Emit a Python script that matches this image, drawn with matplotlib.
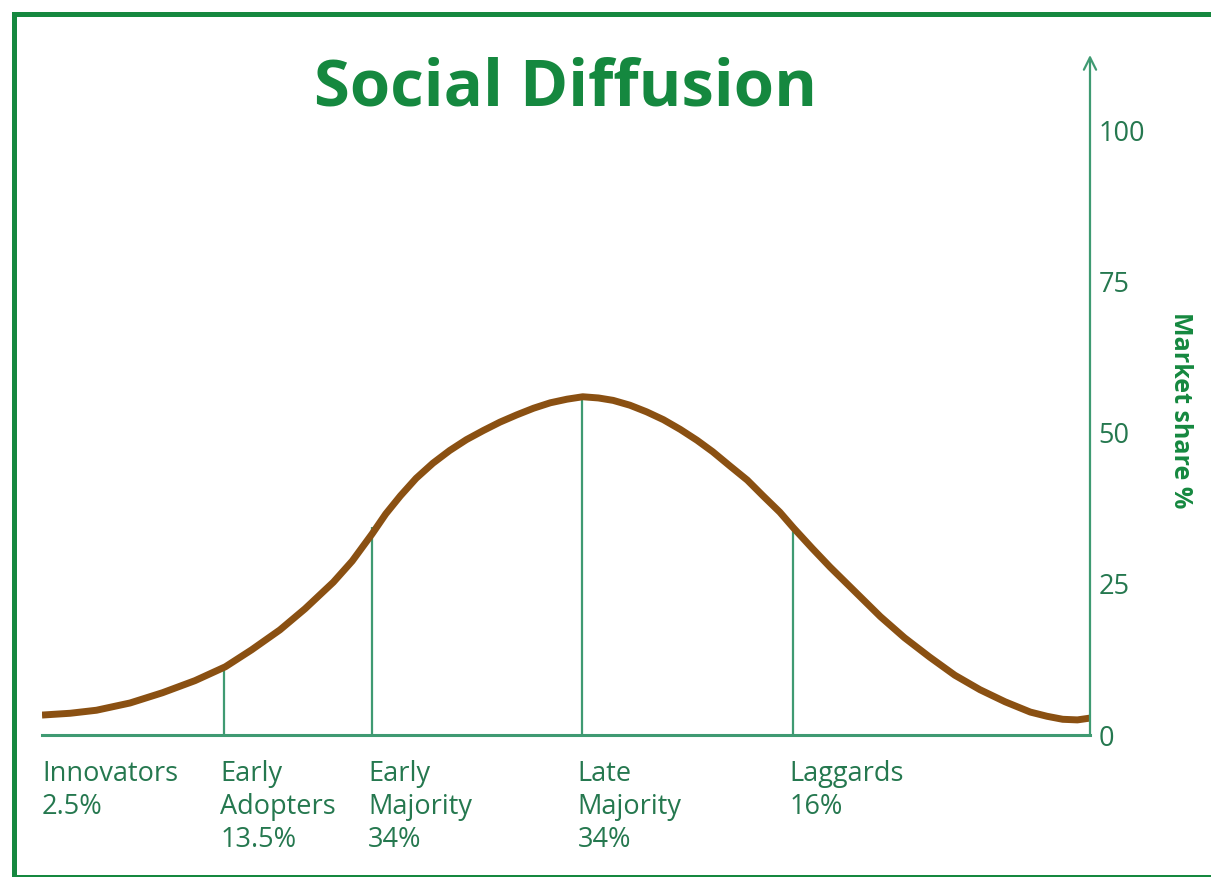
"""Social diffusion bell curve (adopter categories) with a right-hand share axis."""
import matplotlib
matplotlib.use("Agg")
import matplotlib.pyplot as plt
from matplotlib.patches import Rectangle

# curve: x in % of the time axis, y in market share %
curve_x = [0, 2.7, 5.2, 8.4, 11.5, 14.6, 17.5, 20.0, 22.7, 25.1, 27.8, 29.6,
           31.5, 32.8, 34.2, 35.7, 37.3, 38.9, 40.5, 42.1, 43.7, 45.3, 46.9,
           48.5, 50.1, 51.6, 53.1, 54.5, 56.1, 57.7, 59.3, 60.9, 62.5, 64.0,
           65.6, 67.3, 68.8, 70.4, 71.7, 73.5, 75.2, 77.6, 80.0, 82.3, 84.7,
           87.1, 89.5, 91.9, 94.3, 95.9, 97.4, 98.8, 100]
curve_y = [3.3, 3.6, 4.1, 5.3, 7.0, 9.0, 11.3, 14.1, 17.4, 20.9, 25.3, 28.8,
           33.3, 36.6, 39.6, 42.5, 45.0, 47.1, 48.9, 50.4, 51.8, 53.0, 54.1,
           55.0, 55.6, 56.0, 55.8, 55.4, 54.6, 53.5, 52.2, 50.6, 48.8, 46.9,
           44.6, 42.2, 39.6, 36.9, 34.3, 30.9, 27.8, 23.7, 19.6, 16.1, 12.9,
           9.9, 7.5, 5.5, 3.8, 3.1, 2.6, 2.5, 2.8]

# category boundaries (vertical dividers) and how high they reach
boundary_x = [17.4, 31.5, 51.5, 71.7]
boundary_top = [11.1, 34.4, 56.0, 34.1]

categories = ["Innovators\n2.5%", "Early\nAdopters\n13.5%", "Early\nMajority\n34%",
              "Late\nMajority\n34%", "Laggards\n16%"]
category_x = [0, 17.0, 31.1, 51.1, 71.3]

y_ticks = [0, 25, 50, 75, 100]

TITLE_GREEN = "#15883f"
LINE_GREEN = "#3f9a72"
TEXT_GREEN = "#25784f"
BROWN = "#8a5012"

plt.rcParams["font.family"] = ["Open Sans", "DejaVu Sans"]

W, H = 1211, 877
fig = plt.figure(figsize=(W / 100, H / 100), dpi=100)
# axes: x 0..100 -> px 42..1090, y 0 at px 735, arrow tip at px 55
y_top = 100 + (131 - 55) / 6.04
ax = fig.add_axes([42 / W, (H - 735) / H, 1048 / W, 680 / H])
ax.set_xlim(0, 100)
ax.set_ylim(0, y_top)

ax.plot(curve_x, curve_y, color=BROWN, lw=5, solid_capstyle="butt",
        solid_joinstyle="round", zorder=3)
ax.vlines(boundary_x, 0, boundary_top, color=LINE_GREEN, lw=1.6, zorder=2)

for s in ["top", "left", "right"]:
    ax.spines[s].set_visible(False)
ax.spines["bottom"].set_color(LINE_GREEN)
ax.spines["bottom"].set_linewidth(2.2)
ax.annotate("", xy=(100, y_top), xytext=(100, 0),
            arrowprops=dict(arrowstyle="->", color=LINE_GREEN, lw=1.6,
                            mutation_scale=22, shrinkA=0, shrinkB=0),
            annotation_clip=False)

ax.set_xticks([])
ax.yaxis.tick_right()
ax.set_yticks(y_ticks)
ax.set_yticklabels([str(t) for t in y_ticks])
ax.tick_params(axis="y", length=0, pad=6, labelsize=19.5, labelcolor=TEXT_GREEN)

for x, lab in zip(category_x, categories):
    ax.text(x, -4.1, lab, ha="left", va="top", fontsize=19.5, color=TEXT_GREEN,
            linespacing=1.24, clip_on=False)

fig.text(565 / W, 1 - 89 / H, "Social Diffusion", ha="center", va="center",
         fontsize=47, fontweight="bold", color=TITLE_GREEN)
fig.text(1181 / W, 1 - 410 / H, "Market share %", ha="center", va="center",
         rotation=-90, fontsize=18, fontweight="bold", color=TITLE_GREEN)

# frame round the chart (right side runs off the picture)
fig.patches.append(Rectangle((14 / W, 0.5 / H), 1.05, (H - 14.5) / H,
                             transform=fig.transFigure, fill=False,
                             ec=TITLE_GREEN, lw=3.6))

fig.savefig("out.png", dpi=100, facecolor="white")
